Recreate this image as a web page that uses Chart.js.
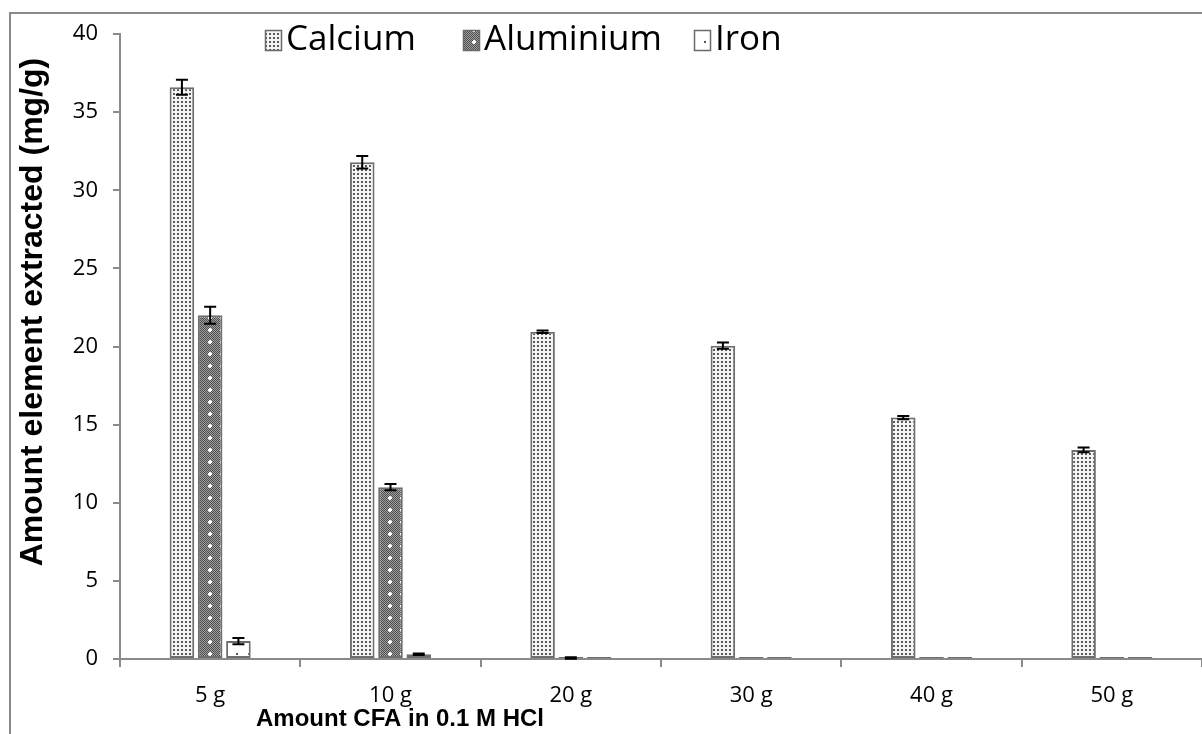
<!DOCTYPE html>
<html>
<head>
<meta charset="utf-8">
<title>Element extraction</title>
<script src="https://cdn.jsdelivr.net/npm/chart.js@4/dist/chart.umd.min.js"></script>
<style>
  html, body { margin: 0; padding: 0; background: #fff; }
  #chart { display: block; }
</style>
</head>
<body>
<canvas id="chart" width="1202" height="734"></canvas>
<script>
// amount of CFA (g) in 0.1 M HCl
var categories = ['5 g', '10 g', '20 g', '30 g', '40 g', '50 g'];

// extracted element, mg/g
var calcium   = [36.6, 31.8, 20.95, 20.05, 15.45, 13.38];
var aluminium = [22.0, 11.0, 0.06, 0.02, 0.02, 0.02];
var iron      = [1.15, 0.3, 0.04, 0.01, 0.01, 0.01];

// standard deviations for the error bars
var calciumErr   = [0.48, 0.4, 0.08, 0.2, 0.1, 0.15];
var aluminiumErr = [0.55, 0.2, 0.05, 0, 0, 0];
var ironErr      = [0.2, 0.05, 0, 0, 0, 0];

var yTicks = [0, 5, 10, 15, 20, 25, 30, 35, 40];

var TICK_FONT = '"Open Sans", "DejaVu Sans", sans-serif';
var TITLE_FONT = '"Liberation Sans", Arial, sans-serif';

function makeTile(size, paint) {
    var c = document.createElement('canvas');
    c.width = size; c.height = size;
    var g = c.getContext('2d');
    paint(g, size);
    return document.getElementById('chart').getContext('2d').createPattern(c, 'repeat');
}

// fine stipple
var calciumFill = makeTile(4, function(g) {
    g.fillStyle = '#f4f4f4'; g.fillRect(0, 0, 4, 4);
    g.fillStyle = '#5a5a5a'; g.fillRect(1, 1, 2, 2);
});

// dark checker with light specks
var aluminiumFill = makeTile(12, function(g, s) {
    for (var y = 0; y < s; y++) {
        for (var x = 0; x < s; x++) {
            g.fillStyle = (x + y) % 2 === 0 ? '#4e4e4e' : '#a0a0a0';
            g.fillRect(x, y, 1, 1);
        }
    }
    g.fillStyle = '#ffffff';
    g.fillRect(5, 4, 2, 4);
    g.fillRect(4, 5, 4, 2);
});

// sparse dots
var ironFill = makeTile(12, function(g) {
    g.fillStyle = '#ffffff'; g.fillRect(0, 0, 12, 12);
    g.fillStyle = '#555555'; g.fillRect(8, 5, 2, 2);
});

// outer frame, only top and left edges fall inside the canvas
var framePlugin = {
    id: 'frame',
    beforeDraw: function(chart) {
        var ctx = chart.ctx;
        ctx.save();
        ctx.strokeStyle = '#8a8a8a';
        ctx.lineWidth = 2;
        ctx.beginPath();
        ctx.moveTo(10, chart.height);
        ctx.lineTo(10, 13);
        ctx.lineTo(chart.width, 13);
        ctx.stroke();
        ctx.restore();
    }
};

var errorBarPlugin = {
    id: 'errorBars',
    afterDatasetsDraw: function(chart) {
        var ctx = chart.ctx;
        var y = chart.scales.y;
        ctx.save();
        ctx.strokeStyle = '#000';
        ctx.lineWidth = 2;
        chart.data.datasets.forEach(function(ds, i) {
            var meta = chart.getDatasetMeta(i);
            meta.data.forEach(function(bar, j) {
                var e = ds.errors[j];
                if (!e) return;
                var v = ds.data[j];
                var top = y.getPixelForValue(v + e);
                var bottom = y.getPixelForValue(v - e);
                ctx.beginPath();
                ctx.moveTo(bar.x, top);
                ctx.lineTo(bar.x, bottom);
                ctx.moveTo(bar.x - 6, top);
                ctx.lineTo(bar.x + 6, top);
                ctx.moveTo(bar.x - 6, bottom);
                ctx.lineTo(bar.x + 6, bottom);
                ctx.stroke();
            });
        });
        ctx.restore();
    }
};

// legend keys and axis titles
var labelsPlugin = {
    id: 'labels',
    afterDraw: function(chart) {
        var ctx = chart.ctx;
        var keyX = [265, 463, 694];
        ctx.save();
        chart.data.datasets.forEach(function(ds, i) {
            ctx.fillStyle = ds.backgroundColor;
            ctx.fillRect(keyX[i], 30, 16, 20);
            ctx.strokeStyle = '#6a6a6a';
            ctx.lineWidth = 1.5;
            ctx.strokeRect(keyX[i] + 0.5, 30.5, 16, 20);
            ctx.fillStyle = '#000';
            ctx.font = '35px ' + TICK_FONT;
            ctx.textAlign = 'left';
            ctx.textBaseline = 'middle';
            ctx.fillText(ds.label, keyX[i] + 21, 40);
        });

        ctx.fillStyle = '#000';
        ctx.font = 'bold 24px ' + TITLE_FONT;
        ctx.textAlign = 'center';
        ctx.textBaseline = 'middle';
        ctx.fillText('Amount CFA in 0.1 M HCl', 400, 719);

        ctx.translate(33, 312);
        ctx.rotate(-Math.PI / 2);
        ctx.font = 'bold 32px ' + TITLE_FONT;
        ctx.fillText('Amount element extracted (mg/g)', 0, 0);
        ctx.restore();
    }
};

function drawChart() {
    var barStyle = {
        borderColor: '#6e6e6e',
        borderWidth: 2,
        borderSkipped: false,
        minBarLength: 2,
        categoryPercentage: 0.47,
        barPercentage: 0.87
    };

    new Chart(document.getElementById('chart'), {
        type: 'bar',
        data: {
            labels: categories,
            datasets: [
                Object.assign({ label: 'Calcium', data: calcium, errors: calciumErr, backgroundColor: calciumFill }, barStyle),
                Object.assign({ label: 'Aluminium', data: aluminium, errors: aluminiumErr, backgroundColor: aluminiumFill }, barStyle),
                Object.assign({ label: 'Iron', data: iron, errors: ironErr, backgroundColor: ironFill }, barStyle)
            ]
        },
        options: {
            responsive: false,
            animation: false,
            devicePixelRatio: 1,
            layout: { padding: { top: 34, left: 0, right: 0, bottom: 0 } },
            plugins: {
                legend: { display: false },
                title: { display: false },
                tooltip: { enabled: false }
            },
            scales: {
                x: {
                    offset: true,
                    grid: { offset: true, drawOnChartArea: false, drawTicks: true, tickLength: 8, color: '#8a8a8a', lineWidth: 2 },
                    border: { color: '#8a8a8a', width: 2 },
                    ticks: { color: '#000', font: { family: TICK_FONT, size: 22 }, padding: 16, maxRotation: 0 },
                    afterFit: function(scale) { scale.height = 75; }
                },
                y: {
                    min: 0,
                    max: 40,
                    afterBuildTicks: function(scale) {
                        scale.ticks = yTicks.map(function(v) { return { value: v }; });
                    },
                    grid: { drawOnChartArea: false, drawTicks: true, tickLength: 7, color: '#8a8a8a', lineWidth: 2 },
                    border: { color: '#8a8a8a', width: 2 },
                    ticks: { color: '#000', font: { family: TICK_FONT, size: 22 }, padding: 15 },
                    afterFit: function(scale) { scale.width = 120; }
                }
            }
        },
        plugins: [framePlugin, errorBarPlugin, labelsPlugin]
    });
}

document.fonts.load('22px "Open Sans"').then(drawChart, drawChart);
</script>
</body>
</html>
